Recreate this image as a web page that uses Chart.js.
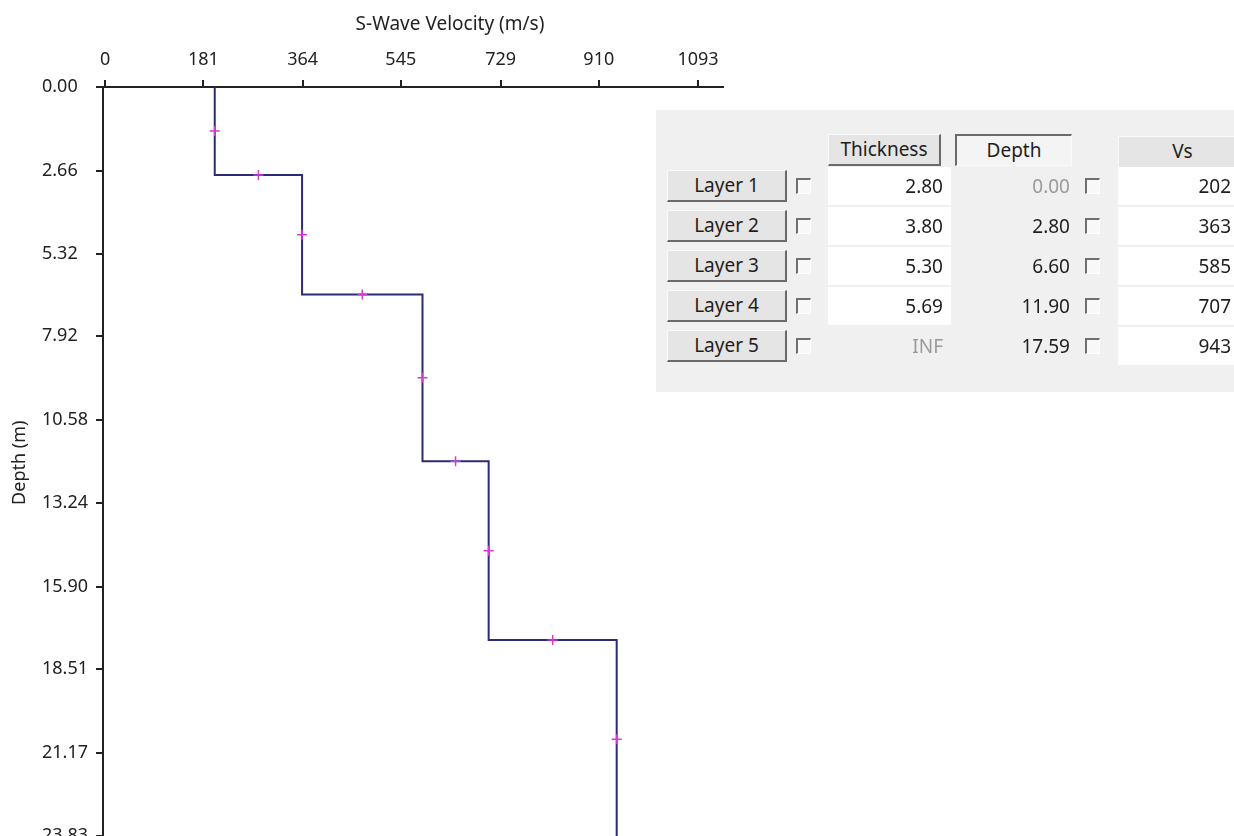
<!DOCTYPE html>
<html>
<head>
<meta charset="utf-8">
<script src="https://cdn.jsdelivr.net/npm/chart.js@4/dist/chart.umd.min.js"></script>
<style>
html,body{margin:0;padding:0;background:#fff;overflow:hidden;width:1234px;height:836px;font-family:"Noto Sans",sans-serif;}
#wrap{position:absolute;left:0;top:0;width:858px;height:845px;}
#panel{position:absolute;left:656px;top:110px;width:600px;height:282px;background:#f0f0f0;}
.btn{position:absolute;box-sizing:border-box;background:#e5e5e5;border-top:1px solid #fafafa;border-left:1px solid #fafafa;border-right:2px solid #6a6a6a;border-bottom:2px solid #6a6a6a;color:#1e1e1e;font-size:19px;text-align:center;}
.sunk{border-top:2px solid #6a6a6a;border-left:2px solid #6a6a6a;border-right:1px solid #fafafa;border-bottom:1px solid #fafafa;background:#f4f4f4;}
.cb{position:absolute;box-sizing:border-box;width:15px;height:16px;border-top:2px solid #6f6f6f;border-left:2px solid #6f6f6f;border-right:1px solid #fff;border-bottom:1px solid #fff;background:#f8f8f8;}
.cell{position:absolute;box-sizing:border-box;font-size:19px;text-align:right;color:#1e1e1e;}
</style>
</head>
<body>
<div id="panel"></div>
<div id="wrap"><canvas id="c" width="858" height="845"></canvas></div>
<script>
// ---- data ----
const vsTicks    = [0, 181, 364, 545, 729, 910, 1093];
const depthTicks = [0.00, 2.66, 5.32, 7.92, 10.58, 13.24, 15.90, 18.51, 21.17, 23.83];
const layerNames = ['Layer 1', 'Layer 2', 'Layer 3', 'Layer 4', 'Layer 5'];
const thickness  = ['2.80', '3.80', '5.30', '5.69', 'INF'];
const layerTop   = [0.00, 2.80, 6.60, 11.90, 17.59];
const vs         = [202, 363, 585, 707, 943];
const vsMin = -4, vsMax = 1139;
const depthMax = 23.9;

// ---- step profile built from the layer table ----
const stepPts = [];
const markPts = [];
for (let i = 0; i < vs.length; i++) {
  const bottom = i < vs.length - 1 ? layerTop[i + 1] : depthMax;
  stepPts.push({x: vs[i], y: layerTop[i]});
  stepPts.push({x: vs[i], y: bottom});
  markPts.push({x: vs[i], y: (layerTop[i] + bottom) / 2});
  if (i < vs.length - 1) markPts.push({x: (vs[i] + vs[i + 1]) / 2, y: layerTop[i + 1]});
}

const FONT = '"Noto Sans", sans-serif';
const INK = '#222';

new Chart(document.getElementById('c'), {
  type: 'scatter',
  data: {
    datasets: [
      {data: markPts, showLine: false, pointStyle: 'cross', pointRadius: 5,
       borderColor: '#d33bd3', backgroundColor: '#d33bd3', pointBorderWidth: 1.5, order: 0},
      {data: stepPts, showLine: true, pointRadius: 0, borderColor: '#2d2a78',
       borderWidth: 2, tension: 0, fill: false, order: 1}
    ]
  },
  options: {
    responsive: false, animation: false, devicePixelRatio: 1,
    layout: {padding: {left: 42, right: 0, top: 0, bottom: 4}},
    plugins: {
      legend: {display: false}, tooltip: {enabled: false},
      title: {display: true, text: 'S-Wave Velocity (m/s)', color: INK,
              font: {family: FONT, size: 19, weight: 'normal'}, padding: {top: 13.6, bottom: 13}}
    },
    scales: {
      x: {
        type: 'linear', position: 'top', min: vsMin, max: vsMax,
        afterBuildTicks: s => { s.ticks = vsTicks.map(v => ({value: v})); },
        afterFit: s => { s.height = 37.6; s.paddingLeft = 0; s.paddingRight = 0; },
        ticks: {autoSkip: false, maxRotation: 0, color: INK, padding: 9,
                font: {family: FONT, size: 18}, callback: v => String(v)},
        grid: {drawOnChartArea: false, drawTicks: true, tickLength: 7, color: INK, lineWidth: 2},
        border: {display: true, color: INK, width: 2}
      },
      y: {
        type: 'linear', position: 'left', reverse: true, min: 0, max: depthMax,
        afterBuildTicks: s => { s.ticks = depthTicks.map(v => ({value: v})); },
        afterFit: s => { s.width = 61; s.paddingTop = 0; s.paddingBottom = 0; },
        ticks: {autoSkip: false, crossAlign: 'far', color: INK, padding: 6,
                font: {family: FONT, size: 18}, callback: v => Number(v).toFixed(2)},
        title: {display: true, text: 'Depth (m)', color: INK,
                font: {family: FONT, size: 18}, padding: {top: -33, bottom: 0}},
        grid: {drawOnChartArea: false, drawTicks: true, tickLength: 7, color: INK, lineWidth: 2},
        border: {display: true, color: INK, width: 2}
      },
      spacer: {
        type: 'linear', position: 'right', display: true,
        ticks: {display: false}, grid: {display: false}, border: {display: false},
        afterFit: s => { s.width = 135; s.paddingTop = 0; s.paddingBottom = 0; }
      }
    }
  }
});

// ---- layer table panel ----
function add(cls, left, top, w, h, text, css) {
  const d = document.createElement('div');
  d.className = cls;
  d.style.left = left + 'px'; d.style.top = top + 'px';
  d.style.width = w + 'px'; d.style.height = h + 'px';
  if (text !== undefined) d.textContent = text;
  if (css) Object.assign(d.style, css);
  document.body.appendChild(d);
  return d;
}
add('btn', 828, 134, 113, 32, 'Thickness', {lineHeight: '28px'});
add('btn sunk', 955, 134, 117, 32, 'Depth', {lineHeight: '28px'});
add('btn', 1118, 136, 130, 33, 'Vs', {lineHeight: '29px'});
for (let i = 0; i < layerNames.length; i++) {
  const c = 186 + 40 * i;
  add('btn', 667, c - 16, 120, 32, layerNames[i], {lineHeight: '28px'});
  add('cb', 796, c - 8, 15, 16);
  add('cell', 828, c - 19, 123, 38, thickness[i],
      {background: i < 4 ? '#fff' : 'transparent', color: i < 4 ? '#1e1e1e' : '#9a9a9a',
       lineHeight: '38px', paddingRight: '8px'});
  add('cell', 960, c - 19, 110, 38, layerTop[i].toFixed(2),
      {color: i === 0 ? '#9a9a9a' : '#1e1e1e', lineHeight: '38px'});
  add('cb', 1085, c - 8, 15, 16);
  add('cell', 1118, c - 19, 130, 38, String(vs[i]),
      {background: '#fff', lineHeight: '38px', paddingRight: '17px'});
}
</script>
</body>
</html>
